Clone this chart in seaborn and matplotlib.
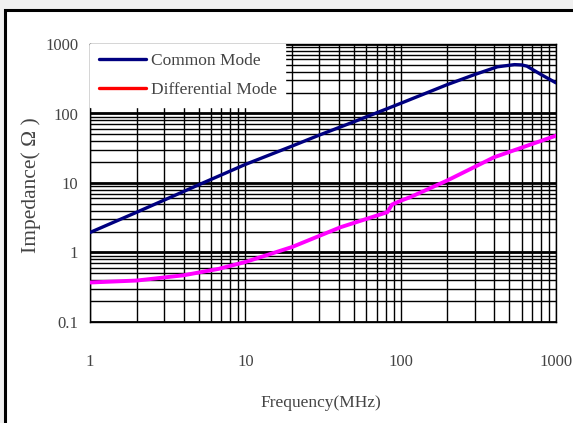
import matplotlib
matplotlib.use("Agg")
import matplotlib.pyplot as plt
from matplotlib.lines import Line2D
from matplotlib.patches import Rectangle
import seaborn as sns

# ---- data ----
freq_cm = [1, 2, 5, 10, 20, 30, 50, 100, 200, 300, 420, 540, 600, 650, 800, 1000]
imp_cm = [1.94, 3.8, 9.4, 18.5, 34, 49, 76, 140, 261, 364, 470, 505, 500, 480, 364, 276]

freq_dm = [1, 2, 4, 6.7, 10, 20, 41, 82, 88, 100, 116, 200, 400, 1000]
imp_dm = [0.37, 0.395, 0.47, 0.58, 0.73, 1.2, 2.31, 3.8, 4.9, 5.55, 6.3, 10.9, 23.5, 48]

x_ticks = [1, 10, 100, 1000]
x_labels = ["1", "10", "100", "1000"]
y_ticks = [0.1, 1, 10, 100, 1000]
y_labels = ["0.1", "1", "10", "100", "1000"]
series_names = ["Common Mode", "Differential Mode"]

sns.set_style("white")
plt.rcParams["font.family"] = ["Liberation Serif", "DejaVu Serif"]

W, H = 573, 423
fig = plt.figure(figsize=(W / 100, H / 100), dpi=100)
fig.patch.set_facecolor("#f0f0f0")
fig.patches.append(Rectangle((5 / W, -0.2), 2, 1 - 10 / H + 0.2, transform=fig.transFigure,
                             facecolor="white", edgecolor="black", linewidth=2.2, zorder=-5))

ax = fig.add_axes([90 / W, 1 - 322 / H, (556 - 90) / W, (322 - 44) / H])
ax.set_facecolor("white")
ax.set_xscale("log")
ax.set_yscale("log")
ax.set_xlim(1, 1000)
ax.set_ylim(0.1, 1000)

# grid
ax.grid(True, which="minor", axis="both", color="black", linewidth=1.0)
ax.grid(True, which="major", axis="x", color="black", linewidth=1.0)
ax.grid(True, which="major", axis="y", color="black", linewidth=2.0)
ax.set_axisbelow(True)

sns.lineplot(x=freq_cm, y=imp_cm, ax=ax, color="#000080", linewidth=2.4, zorder=3)
sns.lineplot(x=freq_dm, y=imp_dm, ax=ax, color="#ff00ff", linewidth=2.8, zorder=3)

ax.set_xticks(x_ticks)
ax.set_xticklabels(x_labels)
ax.set_yticks(y_ticks)
ax.set_yticklabels(y_labels)
ax.tick_params(axis="both", which="both", length=0, labelsize=12, labelcolor="#444444")
ax.tick_params(axis="x", pad=23)
ax.tick_params(axis="y", pad=8.5)

for s in ax.spines.values():
    s.set_color("black")
    s.set_linewidth(1.0)

ax.set_xlabel("Frequency(MHz)", fontsize=12.5, color="#444444")
ax.xaxis.label.set_va("center")
ax.xaxis.set_label_coords(0.496, -0.291)
ax.set_ylabel("Impedance( Ω )", fontsize=15.5, color="#444444")
ax.yaxis.label.set_va("center")
ax.yaxis.label.set_ha("center")
ax.yaxis.set_label_coords(-0.127, 0.493)

handles = [Line2D([], [], color="#000080", linewidth=2.4),
           Line2D([], [], color="#ff0000", linewidth=2.4)]
leg = ax.legend(handles, series_names, loc="upper left", frameon=True, fancybox=False,
                framealpha=1, edgecolor="white", fontsize=12.5, borderaxespad=0,
                handlelength=2.7, labelspacing=0.75, borderpad=0.5, handletextpad=0.3)
for t in leg.get_texts():
    t.set_color("#444444")
leg.set_zorder(5)

fig.savefig("out.png", dpi=100, facecolor=fig.get_facecolor())
